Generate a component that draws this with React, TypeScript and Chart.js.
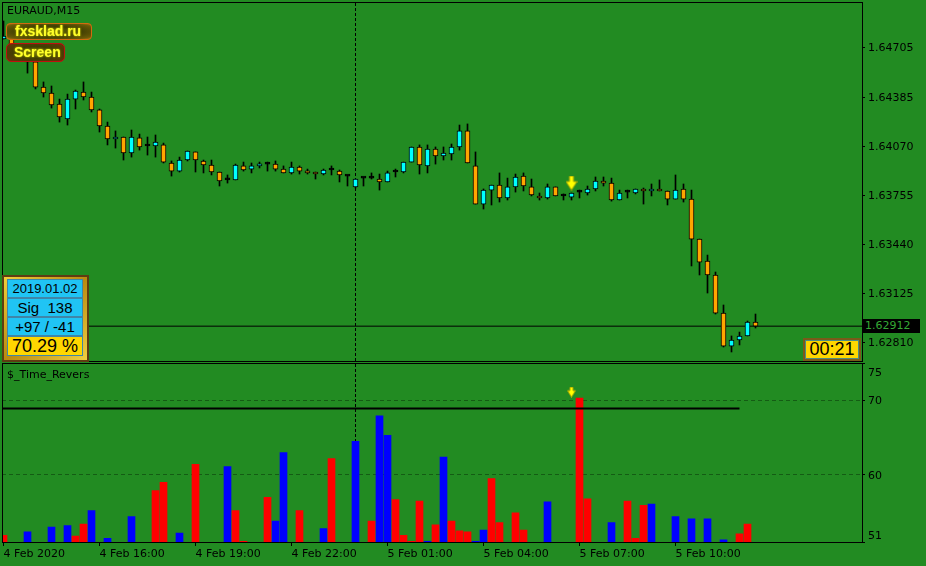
import React, { useEffect, useRef } from 'react';
import { Chart, registerables } from 'chart.js';

Chart.register(...registerables);

// ---------- data ----------
const symbolLabel = 'EURAUD,M15';
const indicatorName = '$_Time_Revers';

const opens = [
  1.64758, 1.64771, 1.64700, 1.64655, 1.64611, 1.64449, 1.64411, 1.64340, 1.64244, 1.64372,
  1.64417, 1.64385, 1.64302, 1.64199, 1.64115, 1.64128, 1.64025, 1.64122, 1.64070, 1.64070,
  1.64077, 1.63961, 1.63909, 1.63980, 1.64032, 1.63974, 1.63948, 1.63903, 1.63852, 1.63852,
  1.63942, 1.63922, 1.63942, 1.63954, 1.63954, 1.63922, 1.63897, 1.63935, 1.63909, 1.63903,
  1.63890, 1.63916, 1.63909, 1.63877, 1.63807, 1.63864, 1.63864, 1.63858, 1.63839, 1.63903,
  1.63903, 1.63967, 1.64064, 1.63942, 1.64051, 1.64006, 1.64019, 1.64064, 1.64167, 1.63942,
  1.63697, 1.63787, 1.63819, 1.63736, 1.63807, 1.63877, 1.63807, 1.63749, 1.63736, 1.63807,
  1.63749, 1.63742, 1.63774, 1.63768, 1.63794, 1.63845, 1.63832, 1.63723, 1.63774, 1.63768,
  1.63794, 1.63781, 1.63794, 1.63781, 1.63729, 1.63794, 1.63729, 1.63472, 1.63331, 1.63241,
  1.62996, 1.62784, 1.62823, 1.62849, 1.62939,
];
const highs = [
  1.64874, 1.64790, 1.64726, 1.64687, 1.64617, 1.64482, 1.64456, 1.64372, 1.64404, 1.64430,
  1.64482, 1.64417, 1.64308, 1.64224, 1.64167, 1.64128, 1.64173, 1.64147, 1.64128, 1.64141,
  1.64089, 1.63974, 1.63999, 1.64038, 1.64032, 1.63980, 1.63980, 1.63903, 1.63884, 1.63954,
  1.63967, 1.63961, 1.63967, 1.63967, 1.63974, 1.63942, 1.63967, 1.63942, 1.63922, 1.63903,
  1.63922, 1.63942, 1.63916, 1.63884, 1.63858, 1.63871, 1.63897, 1.63890, 1.63909, 1.63922,
  1.63967, 1.64064, 1.64077, 1.64077, 1.64064, 1.64064, 1.64083, 1.64205, 1.64212, 1.64032,
  1.63794, 1.63819, 1.63897, 1.63864, 1.63890, 1.63897, 1.63858, 1.63768, 1.63826, 1.63807,
  1.63762, 1.63768, 1.63787, 1.63813, 1.63871, 1.63871, 1.63864, 1.63787, 1.63787, 1.63794,
  1.63800, 1.63826, 1.63852, 1.63781, 1.63884, 1.63826, 1.63787, 1.63472, 1.63369, 1.63260,
  1.63048, 1.62849, 1.62874, 1.62945, 1.62990,
];
const lows = [
  1.64758, 1.64687, 1.64636, 1.64539, 1.64437, 1.64385, 1.64314, 1.64224, 1.64205, 1.64308,
  1.64366, 1.64289, 1.64160, 1.64077, 1.64057, 1.63980, 1.63999, 1.64044, 1.64012, 1.63999,
  1.63961, 1.63877, 1.63903, 1.63974, 1.63903, 1.63897, 1.63884, 1.63813, 1.63832, 1.63852,
  1.63909, 1.63897, 1.63929, 1.63909, 1.63909, 1.63897, 1.63890, 1.63890, 1.63890, 1.63858,
  1.63884, 1.63884, 1.63839, 1.63813, 1.63800, 1.63813, 1.63858, 1.63787, 1.63839, 1.63871,
  1.63897, 1.63967, 1.63890, 1.63897, 1.63954, 1.63980, 1.63980, 1.64044, 1.63961, 1.63697,
  1.63665, 1.63691, 1.63710, 1.63723, 1.63774, 1.63781, 1.63749, 1.63723, 1.63729, 1.63749,
  1.63723, 1.63723, 1.63736, 1.63755, 1.63781, 1.63813, 1.63716, 1.63723, 1.63736, 1.63762,
  1.63697, 1.63749, 1.63781, 1.63691, 1.63729, 1.63710, 1.63299, 1.63241, 1.63125, 1.62990,
  1.62778, 1.62746, 1.62791, 1.62849, 1.62900,
];
const closes = [
  1.64777, 1.64700, 1.64655, 1.64611, 1.64449, 1.64411, 1.64334, 1.64257, 1.64372, 1.64424,
  1.64385, 1.64302, 1.64199, 1.64115, 1.64128, 1.64025, 1.64128, 1.64064, 1.64070, 1.64096,
  1.63967, 1.63909, 1.63980, 1.64038, 1.63980, 1.63948, 1.63903, 1.63845, 1.63852, 1.63948,
  1.63916, 1.63942, 1.63954, 1.63954, 1.63922, 1.63897, 1.63935, 1.63909, 1.63897, 1.63890,
  1.63916, 1.63916, 1.63884, 1.63877, 1.63858, 1.63864, 1.63864, 1.63839, 1.63897, 1.63903,
  1.63967, 1.64064, 1.63948, 1.64051, 1.64006, 1.64025, 1.64064, 1.64167, 1.63961, 1.63697,
  1.63787, 1.63819, 1.63736, 1.63807, 1.63871, 1.63813, 1.63755, 1.63736, 1.63807, 1.63749,
  1.63749, 1.63768, 1.63774, 1.63794, 1.63845, 1.63832, 1.63723, 1.63768, 1.63774, 1.63794,
  1.63781, 1.63794, 1.63781, 1.63729, 1.63787, 1.63729, 1.63472, 1.63324, 1.63241, 1.62996,
  1.62784, 1.62823, 1.62849, 1.62939, 1.62912,
];

const priceTicks = [1.6281, 1.63125, 1.6344, 1.63755, 1.6407, 1.64385, 1.64705];
const priceMin = 1.62688;
const priceMax = 1.64996;

const timeTickSlots = [0, 12, 24, 36, 48, 60, 72, 84];
const timeTickLabels = [
  '4 Feb 2020', '4 Feb 16:00', '4 Feb 19:00', '4 Feb 22:00',
  '5 Feb 01:00', '5 Feb 04:00', '5 Feb 07:00', '5 Feb 10:00',
];

const redSlots = [0, 9, 10, 19, 20, 24, 29, 30, 33, 37, 41, 46, 49, 50, 51, 52, 54, 56, 57, 58, 61, 62, 64, 65, 72, 73, 78, 79, 80, 92, 93];
const redValues = [51.9, 51.8, 53.4, 57.9, 59.0, 61.4, 55.2, 51.1, 57.0, 55.2, 62.2, 53.8, 56.7, 51.9, 51.1, 56.5, 53.3, 53.8, 52.5, 52.35, 59.5, 53.6, 54.9, 52.6, 70.3, 56.8, 56.5, 51.5, 55.9, 52.1, 53.4];
const blueSlots = [3, 6, 8, 11, 13, 16, 22, 28, 34, 35, 40, 44, 47, 48, 53, 55, 59, 60, 68, 76, 81, 84, 86, 88, 90];
const blueValues = [52.35, 53.0, 53.2, 55.2, 51.5, 54.4, 52.2, 61.1, 53.8, 63.0, 52.8, 64.5, 67.9, 65.3, 51.1, 62.4, 51.1, 52.6, 56.4, 53.6, 56.1, 54.4, 54.1, 54.1, 51.3];

const indMin = 51;
const indMax = 75;
const indTicks = [51, 60, 70, 75];
const indGridLevels = [60, 70];
const signalLevel = 68.9;
const signalLevelEndSlot = 92;

const separatorSlot = 44;
const arrowSlot = 71;
const arrowPrice = 1.63832;
const arrowInd = 71.1;

const infoRows = ['2019.01.02', 'Sig  138', '+97 / -41'];
const infoPercent = '70.29 %';
const timerText = '00:21';
const lastPrice = closes[closes.length - 1];

// visible slot window of the chart
const xMin = -0.1875;
const xMax = 107.3125;

// ---------- styles ----------
const BG = '#228B22';
const BULL = '#00FFFF';
const BEAR = '#FFA500';
const GRID = '#145c14';
const AXIS_FONT = "'DejaVu Sans', sans-serif";

function makeArrow(w: number, h: number) {
  const c = document.createElement('canvas');
  c.width = w;
  c.height = h;
  const g = c.getContext('2d')!;
  const cx = w / 2;
  const sw = Math.max(2, Math.round(w * 0.36));
  const sh = Math.round(h * 0.4);
  g.beginPath();
  g.moveTo(cx - sw / 2, 0.5);
  g.lineTo(cx + sw / 2, 0.5);
  g.lineTo(cx + sw / 2, sh);
  g.lineTo(w - 0.5, sh);
  g.lineTo(cx, h - 0.5);
  g.lineTo(0.5, sh);
  g.lineTo(cx - sw / 2, sh);
  g.closePath();
  g.fillStyle = '#FFFF00';
  g.fill();
  g.strokeStyle = '#a8a800';
  g.lineWidth = 1;
  g.stroke();
  return c;
}

const noPad = (s: any) => {
  s.paddingTop = 0;
  s.paddingBottom = 0;
  s.paddingLeft = 0;
  s.paddingRight = 0;
};

const framePlugin = {
  id: 'frame',
  afterDraw(chart: any) {
    const { ctx, chartArea: a } = chart;
    ctx.save();
    ctx.strokeStyle = '#000';
    ctx.lineWidth = 1;
    ctx.strokeRect(a.left + 0.5, a.top + 0.5, a.right - a.left, a.bottom - a.top);
    ctx.restore();
  },
};

const edgeLabelsPlugin = {
  id: 'edgeLabels',
  afterDraw(chart: any) {
    const { ctx } = chart;
    const y = chart.scales.y;
    ctx.save();
    ctx.fillStyle = '#000';
    ctx.font = `11px ${AXIS_FONT}`;
    ctx.textBaseline = 'middle';
    ctx.textAlign = 'left';
    const x = y.left + 6;
    ctx.fillText(String(indMax), x, y.getPixelForValue(indMax) + 10);
    ctx.fillText(String(indMin), x, y.getPixelForValue(indMin) - 6);
    ctx.restore();
  },
};

export default function App() {
  const topRef = useRef<HTMLCanvasElement>(null);
  const botRef = useRef<HTMLCanvasElement>(null);

  useEffect(() => {
    Chart.defaults.font.family = AXIS_FONT;
    Chart.defaults.font.size = 11;
    Chart.defaults.color = '#000';

    const arrowBig = makeArrow(12, 15);
    const arrowSmall = makeArrow(9, 11);

    const candleColor = (c: any) => {
      const i = c.dataIndex;
      if (i === undefined) return BEAR;
      if (closes[i] > opens[i]) return BULL;
      if (closes[i] < opens[i]) return BEAR;
      return '#000';
    };

    const top = new Chart(topRef.current!, {
      type: 'bar',
      data: {
        datasets: [
          {
            type: 'line',
            data: [{ x: xMin, y: lastPrice }, { x: xMax, y: lastPrice }],
            borderColor: '#000',
            borderWidth: 1,
            pointRadius: 0,
            order: 10,
          } as any,
          {
            type: 'line',
            data: [{ x: separatorSlot, y: priceMin }, { x: separatorSlot, y: priceMax }],
            borderColor: '#000',
            borderWidth: 1,
            borderDash: [3, 2],
            pointRadius: 0,
            order: 9,
          } as any,
          {
            type: 'bar',
            data: lows.map((l, i) => ({ x: i, y: [l, highs[i]] })),
            backgroundColor: '#000',
            borderWidth: 0,
            barThickness: 1,
            grouped: false,
            clip: 0,
            order: 3,
          } as any,
          {
            type: 'bar',
            data: opens.map((o, i) => ({ x: i, y: [o, closes[i]] })),
            backgroundColor: candleColor,
            borderColor: '#000',
            borderWidth: 1,
            borderSkipped: false,
            barThickness: 5,
            minBarLength: 2,
            grouped: false,
            clip: 0,
            order: 2,
          } as any,
          {
            type: 'line',
            data: [{ x: arrowSlot, y: arrowPrice }],
            showLine: false,
            pointStyle: arrowBig,
            order: 0,
          } as any,
        ],
      },
      options: {
        responsive: false,
        animation: false,
        events: [],
        layout: { padding: { left: 2, top: 2, bottom: 1, right: 0 }, autoPadding: false },
        plugins: { legend: { display: false }, tooltip: { enabled: false } },
        scales: {
          x: {
            type: 'linear',
            display: false,
            min: xMin,
            max: xMax,
            offset: false,
            afterFit: noPad,
          },
          y: {
            type: 'linear',
            position: 'right',
            min: priceMin,
            max: priceMax,
            afterFit: (s: any) => { s.width = 64; noPad(s); },
            afterBuildTicks: (s: any) => { s.ticks = priceTicks.map((v) => ({ value: v })); },
            ticks: {
              color: '#000',
              padding: 3,
              labelOffset: 1,
              font: { family: AXIS_FONT, size: 11 },
              callback: (v: any) => Number(v).toFixed(5),
            },
            grid: { drawOnChartArea: false, drawTicks: true, tickLength: 3, tickColor: '#000', color: '#000' },
            border: { display: false },
          },
        },
      } as any,
      plugins: [framePlugin],
    });

    const bot = new Chart(botRef.current!, {
      type: 'bar',
      data: {
        datasets: [
          {
            type: 'line',
            data: [{ x: separatorSlot, y: indMin }, { x: separatorSlot, y: indMax }],
            borderColor: '#000',
            borderWidth: 1,
            borderDash: [3, 2],
            pointRadius: 0,
            order: 9,
          } as any,
          {
            type: 'bar',
            data: redSlots.map((s, i) => ({ x: s, y: redValues[i] })),
            backgroundColor: '#FF0000',
            borderWidth: 0,
            barThickness: 7,
            grouped: false,
            clip: 0,
            order: 3,
          } as any,
          {
            type: 'bar',
            data: blueSlots.map((s, i) => ({ x: s, y: blueValues[i] })),
            backgroundColor: '#0000FF',
            borderWidth: 0,
            barThickness: 7,
            grouped: false,
            clip: 0,
            order: 3,
          } as any,
          {
            type: 'line',
            data: [{ x: xMin, y: signalLevel }, { x: signalLevelEndSlot, y: signalLevel }],
            borderColor: '#000',
            borderWidth: 2,
            pointRadius: 0,
            order: 1,
          } as any,
          {
            type: 'line',
            data: [{ x: arrowSlot, y: arrowInd }],
            showLine: false,
            pointStyle: arrowSmall,
            order: 0,
          } as any,
        ],
      },
      options: {
        responsive: false,
        animation: false,
        events: [],
        layout: { padding: { left: 2, top: 1, bottom: 0, right: 0 }, autoPadding: false },
        plugins: { legend: { display: false }, tooltip: { enabled: false } },
        scales: {
          x: {
            type: 'linear',
            position: 'bottom',
            min: xMin,
            max: xMax,
            offset: false,
            afterFit: (s: any) => { s.height = 24; noPad(s); },
            afterBuildTicks: (s: any) => { s.ticks = timeTickSlots.map((v) => ({ value: v })); },
            ticks: {
              color: '#000',
              align: 'start',
              padding: 2,
              autoSkip: false,
              maxRotation: 0,
              font: { family: AXIS_FONT, size: 11 },
              callback: (_v: any, i: number) => timeTickLabels[i],
            },
            grid: { drawOnChartArea: false, drawTicks: true, tickLength: 4, tickColor: '#000', offset: false },
            border: { display: false },
          },
          y: {
            type: 'linear',
            position: 'right',
            min: indMin,
            max: indMax,
            afterFit: (s: any) => { s.width = 64; noPad(s); },
            afterBuildTicks: (s: any) => { s.ticks = indTicks.map((v) => ({ value: v })); },
            ticks: {
              color: '#000',
              padding: 3,
              labelOffset: 1,
              font: { family: AXIS_FONT, size: 11 },
              callback: (v: any) => (indGridLevels.includes(Number(v)) ? String(v) : ''),
            },
            grid: {
              drawOnChartArea: true,
              drawTicks: true,
              tickLength: 3,
              tickColor: '#000',
              color: (c: any) => (c.tick && indGridLevels.includes(c.tick.value) ? GRID : 'rgba(0,0,0,0)'),
            },
            border: { display: false, dash: [4, 3] },
          },
        },
      } as any,
      plugins: [framePlugin, edgeLabelsPlugin],
    });

    return () => {
      top.destroy();
      bot.destroy();
    };
  }, []);

  const sans = "'Liberation Sans', Arial, sans-serif";
  const cell = (top: number, h: number, bg: string): React.CSSProperties => ({
    position: 'absolute',
    left: 7,
    top,
    width: 76,
    height: h,
    boxSizing: 'border-box',
    background: bg,
    border: '1px solid #3f86a8',
    color: '#000',
    fontFamily: sans,
    textAlign: 'center',
    whiteSpace: 'pre',
  });

  return (
    <div
      style={{
        position: 'fixed',
        left: 0,
        top: 0,
        width: 926,
        height: 566,
        background: BG,
        overflow: 'hidden',
      }}
    >
      <canvas ref={topRef} width={926} height={362} style={{ position: 'absolute', left: 0, top: 0, width: 926, height: 362 }} />
      <canvas ref={botRef} width={926} height={204} style={{ position: 'absolute', left: 0, top: 362, width: 926, height: 204 }} />

      <div style={{ position: 'absolute', left: 7, top: 4, font: `11px ${AXIS_FONT}`, lineHeight: '13px', color: '#000' }}>
        {symbolLabel}
      </div>

      <div
        style={{
          position: 'absolute', left: 6, top: 23, width: 86, height: 17, boxSizing: 'border-box',
          border: '1px solid #d26a10', borderRadius: 4,
          background: 'radial-gradient(ellipse at center, #6e6e08 0%, #3e3e02 50%, #6a5a06 85%, #b07010 100%)',
          color: '#ffff2a', fontFamily: sans, fontWeight: 'bold', fontSize: 14, lineHeight: '15px',
          paddingLeft: 8, textShadow: '0 0 2px #e0e000',
        }}
      >
        fxsklad.ru
      </div>
      <div
        style={{
          position: 'absolute', left: 6, top: 43, width: 59, height: 19, boxSizing: 'border-box',
          border: '1px solid #c01010', borderRadius: 5,
          background: 'radial-gradient(ellipse at center, #6e6e08 0%, #3e3e02 50%, #5a3a06 85%, #a01010 100%)',
          color: '#ffff2a', fontFamily: sans, fontWeight: 'bold', fontSize: 14, lineHeight: '17px',
          paddingLeft: 7, textShadow: '0 0 2px #e0e000',
        }}
      >
        Screen
      </div>

      <div
        style={{
          position: 'absolute', left: 2, top: 275, width: 87, height: 87, boxSizing: 'border-box',
          border: '2px solid #5e3c12', background: 'linear-gradient(135deg, #f2cf3a, #b98a10 50%, #f0d040)',
        }}
      />
      <div style={{ ...cell(279, 19, '#20c4f4'), fontSize: 13, lineHeight: '17px' }}>{infoRows[0]}</div>
      <div style={{ ...cell(298, 19, '#20c4f4'), fontSize: 15, lineHeight: '17px' }}>{infoRows[1]}</div>
      <div style={{ ...cell(317, 19, '#20c4f4'), fontSize: 15, lineHeight: '17px' }}>{infoRows[2]}</div>
      <div style={{ ...cell(336, 20, '#FFD700'), fontSize: 18, lineHeight: '18px' }}>{infoPercent}</div>

      <div
        style={{
          position: 'absolute', left: 803, top: 338, width: 58, height: 23, boxSizing: 'border-box',
          border: '2px solid #7a5a1a', boxShadow: 'inset 0 0 0 1px #4f8a80', background: '#FFD700',
          color: '#000', fontFamily: sans, fontSize: 18, lineHeight: '19px', textAlign: 'center',
        }}
      >
        {timerText}
      </div>

      <div
        style={{
          position: 'absolute', left: 863, top: 319, width: 57, height: 14, background: '#000',
          color: '#35a835', font: `11px ${AXIS_FONT}`, lineHeight: '14px', paddingLeft: 2, boxSizing: 'border-box',
        }}
      >
        {lastPrice.toFixed(5)}
      </div>

      <div style={{ position: 'absolute', left: 7, top: 368, font: `11px ${AXIS_FONT}`, lineHeight: '13px', color: '#000' }}>
        {indicatorName}
      </div>
    </div>
  );
}
